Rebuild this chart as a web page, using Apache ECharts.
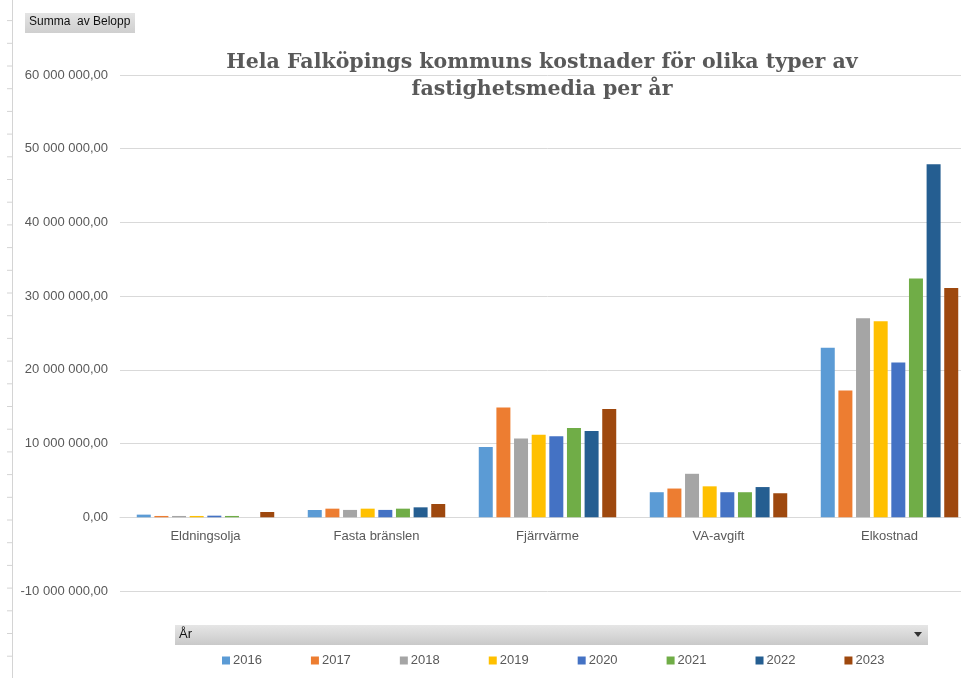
<!DOCTYPE html>
<html>
<head>
<meta charset="utf-8">
<script src="https://cdn.jsdelivr.net/npm/echarts@6/dist/echarts.min.js"></script>
<style>html,body{margin:0;padding:0;background:#fff;overflow:hidden;width:961px;height:678px;}#c{width:976px;height:678px;}</style>
</head>
<body>
<div id="c"></div>
<script>
const categories = ['Eldningsolja', 'Fasta bränslen', 'Fjärrvärme', 'VA-avgift', 'Elkostnad'];
const years = ['2016', '2017', '2018', '2019', '2020', '2021', '2022', '2023'];
const colors = ['#5B9BD5', '#ED7D31', '#A5A5A5', '#FFC000', '#4472C4', '#70AD47', '#255E91', '#9E480E'];
const v2016 = [360000, 990000, 9550000, 3400000, 23000000];
const v2017 = [180000, 1170000, 14900000, 3900000, 17200000];
const v2018 = [180000, 1000000, 10700000, 5900000, 27000000];
const v2019 = [180000, 1170000, 11200000, 4200000, 26600000];
const v2020 = [220000, 1000000, 11000000, 3400000, 21000000];
const v2021 = [180000, 1170000, 12100000, 3400000, 32400000];
const v2022 = [0, 1350000, 11700000, 4100000, 47900000];
const v2023 = [720000, 1800000, 14700000, 3260000, 31100000];
const seriesValues = [v2016, v2017, v2018, v2019, v2020, v2021, v2022, v2023];
const yMin = -10000000, yMax = 60000000, yStep = 10000000;

function fmt(v) {
  const neg = v < 0;
  const s = Math.abs(Math.round(v)).toString().replace(/\B(?=(\d{3})+(?!\d))/g, ' ');
  return (neg ? '-' : '') + s + ',00';
}

const gridTop = 75, gridHeight = 516;
const zeroOffset = -gridHeight * (0 - yMin) / (yMax - yMin);

const chart = echarts.init(document.getElementById('c'));

const leftTicks = [];
for (let y = 20.6; y < 678; y += 22.7) {
  leftTicks.push({ type: 'line', shape: { x1: 7, y1: y, x2: 12, y2: y }, style: { stroke: '#d4d4d4', lineWidth: 1 }, silent: true });
}

chart.setOption({
  animation: false,
  color: colors,
  title: {
    text: 'Hela Falköpings kommuns kostnader för olika typer av\nfastighetsmedia per år',
    left: 537, top: 44, textAlign: 'center',
    textStyle: { fontFamily: 'DejaVu Serif', fontWeight: 'bold', fontSize: 20.5, color: '#595959', lineHeight: 27 }
  },
  legend: {
    data: years, top: 649, left: 217,
    itemWidth: 8, itemHeight: 8, itemGap: 49,
    icon: 'rect',
    textStyle: { fontFamily: 'Liberation Sans', fontSize: 13, color: '#595959', padding: [0, 0, 0, -2] }
  },
  grid: { left: 120, top: gridTop, width: 855, height: gridHeight, containLabel: false },
  xAxis: {
    type: 'category', data: categories,
    offset: zeroOffset,
    axisLine: { onZero: false, lineStyle: { color: '#d9d9d9', width: 1 } },
    axisTick: { show: false },
    axisLabel: { fontFamily: 'Liberation Sans', fontSize: 13, color: '#595959', margin: 13 }
  },
  yAxis: {
    type: 'value', min: yMin, max: yMax, interval: yStep,
    axisLine: { show: false }, axisTick: { show: false },
    splitLine: { lineStyle: { color: '#d9d9d9', width: 1 } },
    axisLabel: { fontFamily: 'Liberation Sans', fontSize: 13, color: '#595959', margin: 12, formatter: fmt }
  },
  series: years.map((y, i) => ({
    name: y, type: 'bar', data: seriesValues[i],
    barWidth: 14, barGap: '26%',
    itemStyle: { color: colors[i] }
  })),
  graphic: [
    { type: 'line', shape: { x1: 12.5, y1: 0, x2: 12.5, y2: 678 }, style: { stroke: '#d4d4d4', lineWidth: 1 }, silent: true },
    ...leftTicks,
    {
      type: 'rect', shape: { x: 25, y: 13, width: 110, height: 20 },
      style: { fill: new echarts.graphic.LinearGradient(0, 0, 0, 1, [{ offset: 0, color: '#e4e4e4' }, { offset: 1, color: '#cfcfcf' }]) },
      silent: true
    },
    { type: 'text', left: 29, top: 16, style: { text: 'Summa  av Belopp', fontFamily: 'Liberation Sans', fontSize: 12, fill: '#111' }, silent: true },
    {
      type: 'rect', shape: { x: 175, y: 625, width: 753, height: 20 },
      style: { fill: new echarts.graphic.LinearGradient(0, 0, 0, 1, [{ offset: 0, color: '#e6e6e6' }, { offset: 1, color: '#c9c9c9' }]) },
      silent: true
    },
    { type: 'text', left: 179, top: 628, style: { text: 'År', fontFamily: 'Liberation Sans', fontSize: 13, fill: '#111' }, silent: true },
    { type: 'polygon', shape: { points: [[914, 632], [922, 632], [918, 637]] }, style: { fill: '#333' }, silent: true }
  ]
});
</script>
</body>
</html>
